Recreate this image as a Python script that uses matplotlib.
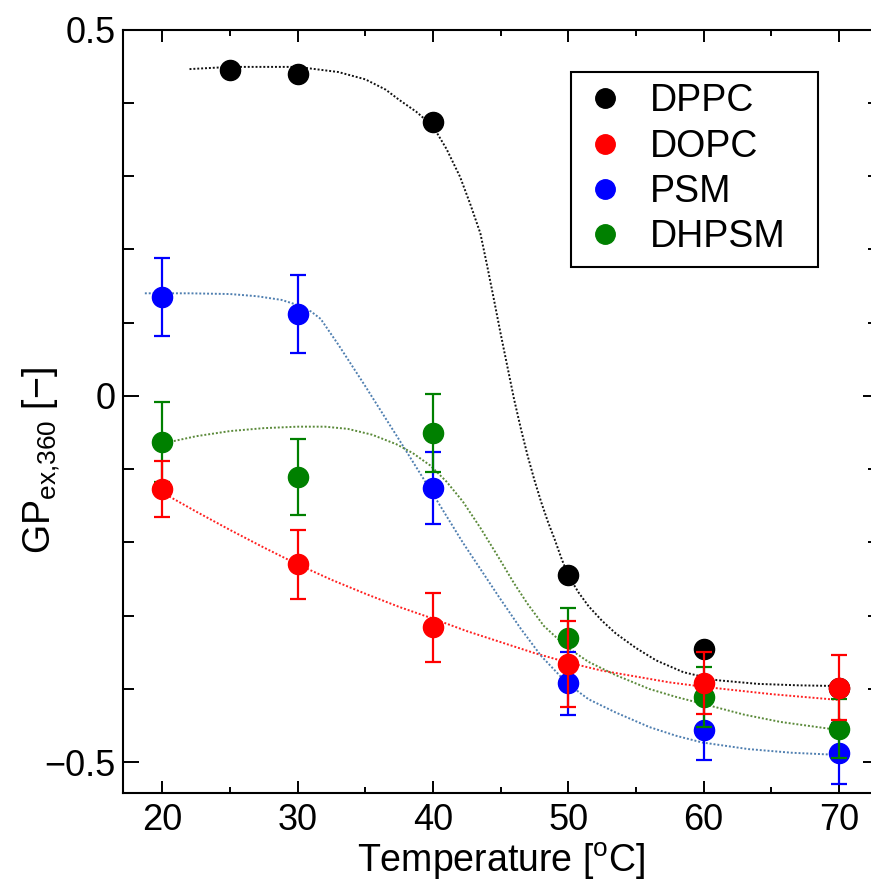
import numpy as np
import matplotlib
matplotlib.use("Agg")
import matplotlib.pyplot as plt
from matplotlib.lines import Line2D

plt.rcParams["font.family"] = ["Liberation Sans", "DejaVu Sans"]
plt.rcParams["mathtext.fontset"] = "custom"
plt.rcParams["mathtext.rm"] = "Liberation Sans"
plt.rcParams["mathtext.it"] = "Liberation Sans:italic"

# ---- 측정값 (온도별 GP) ----
temp = [20, 30, 40, 50, 60, 70]
temp_dppc = [25, 30, 40, 50, 60, 70]
gp_dppc = [0.445, 0.439, 0.374, -0.245, -0.346, -0.398]
err_dppc = [0.004, 0.004, 0.004, 0.004, 0.004, 0.004]
gp_dopc = [-0.127, -0.230, -0.316, -0.366, -0.392, -0.398]
err_dopc = [0.038, 0.047, 0.047, 0.059, 0.042, 0.045]
gp_psm = [0.135, 0.112, -0.126, -0.392, -0.456, -0.488]
err_psm = [0.053, 0.053, 0.049, 0.043, 0.041, 0.042]
gp_dhpsm = [-0.063, -0.111, -0.051, -0.331, -0.411, -0.454]
err_dhpsm = [0.055, 0.052, 0.053, 0.042, 0.041, 0.040]

# ---- 피팅 곡선 (그림에서 읽은 점) ----
fit_x_dppc = [22, 25, 30, 33, 35, 36.5, 37.5, 38.75, 40, 41, 42, 42.75, 43.5, 44,
              44.5, 45, 45.5, 46, 46.5, 47, 47.5, 48, 48.5, 49, 49.5, 50, 50.75,
              51.5, 52.5, 53.5, 55, 56.5, 58.5, 61, 64, 67, 70]
fit_y_dppc = [0.446, 0.449, 0.449, 0.442, 0.432, 0.418, 0.404, 0.388, 0.368, 0.337,
              0.299, 0.262, 0.222, 0.178, 0.132, 0.085, 0.040, -0.005, -0.045,
              -0.082, -0.115, -0.145, -0.172, -0.196, -0.222, -0.245, -0.268,
              -0.287, -0.307, -0.324, -0.344, -0.361, -0.377, -0.388, -0.393,
              -0.395, -0.396]
fit_x_dopc = [20, 22.5, 25, 27.5, 30, 32.5, 35, 37.5, 40, 42.5, 45, 47.5, 50, 52.5,
              55, 57.5, 60, 62.5, 65, 67.5, 70]
fit_y_dopc = [-0.132, -0.158, -0.183, -0.207, -0.230, -0.251, -0.270, -0.288, -0.304,
              -0.321, -0.336, -0.351, -0.364, -0.375, -0.383, -0.391, -0.397, -0.402,
              -0.407, -0.411, -0.415]
fit_x_psm = [18.7, 22, 25, 27, 28.8, 30, 31, 31.7, 33, 34.9, 37.4, 39.8, 42.2, 44.9,
             46.5, 48, 49.9, 51.5, 53.5, 56, 58, 59.9, 63.3, 66.5, 70]
fit_y_psm = [0.140, 0.140, 0.139, 0.136, 0.131, 0.124, 0.115, 0.105, 0.070, 0.016,
             -0.057, -0.128, -0.200, -0.275, -0.318, -0.355, -0.392, -0.414, -0.432,
             -0.452, -0.464, -0.473, -0.482, -0.487, -0.490]
fit_x_dhpsm = [20, 22.5, 25, 27.5, 30, 32, 33.7, 35.5, 37.3, 38.5, 39.8, 41, 42.2,
               43.5, 44.9, 46, 47, 48.2, 49.9, 51.5, 53.5, 56, 58, 59.9, 63, 65.7, 70]
fit_y_dhpsm = [-0.065, -0.055, -0.048, -0.044, -0.042, -0.042, -0.045, -0.053, -0.066,
               -0.078, -0.095, -0.117, -0.144, -0.180, -0.222, -0.256, -0.284, -0.314,
               -0.343, -0.363, -0.381, -0.400, -0.411, -0.420, -0.435, -0.445, -0.456]

fig = plt.figure(figsize=(8.71, 8.84), dpi=100)
ax = fig.add_axes([0.141, 0.1029, 0.868, 0.8637])

dot = (0, (1, 1))
ax.plot(fit_x_dppc, fit_y_dppc, ls=dot, lw=1.4, color="#111111", zorder=1.5)
ax.plot(fit_x_dopc, fit_y_dopc, ls=dot, lw=1.4, color="#ff2020", zorder=1.5)
ax.plot(fit_x_psm, fit_y_psm, ls=dot, lw=1.4, color="#4f7fb0", zorder=1.5)
ax.plot(fit_x_dhpsm, fit_y_dhpsm, ls=dot, lw=1.4, color="#5b8a3a", zorder=1.5)

series = [
    (temp_dppc, gp_dppc, err_dppc, "black", "DPPC", 3),
    (temp, gp_dopc, err_dopc, "red", "DOPC", 6),
    (temp, gp_psm, err_psm, "blue", "PSM", 4),
    (temp, gp_dhpsm, err_dhpsm, "green", "DHPSM", 5),
]
handles = []
for x, y, e, c, lab, z in series:
    ax.errorbar(x, y, yerr=e, fmt="o", color=c, ms=14.5, mec=c, elinewidth=1.6,
                capsize=6, capthick=1.6, zorder=z)
    handles.append(Line2D([], [], ls="", marker="o", ms=14, color=c, label=lab))

ax.set_xlim(17.07, 72.96)
ax.set_ylim(-0.542, 0.5)
ax.set_xticks(temp)
ax.set_xticks([25, 35, 45, 55, 65], minor=True)
ax.set_yticks([-0.5, 0, 0.5])
ax.set_yticklabels(["\u22120.5", "0", "0.5"])
ax.set_yticks([-0.4, -0.3, -0.2, -0.1, 0.1, 0.2, 0.3, 0.4], minor=True)
for s in ax.spines.values():
    s.set_linewidth(1.5)
ax.tick_params(which="both", direction="in", top=True, right=True, width=1.4)
ax.tick_params(axis="x", which="major", length=8.6, labelsize=26, pad=7)
ax.tick_params(axis="x", which="minor", length=4.3)
ax.tick_params(axis="y", which="major", length=11.3, labelsize=26, pad=5)
ax.tick_params(axis="y", which="minor", length=7.7)

ax.set_xlabel("Temperature [$^{\\mathrm{o}}$C]", fontsize=27, labelpad=2)
ax.set_ylabel("GP$_{\\mathrm{ex{,}360}}$ [\u2212]", fontsize=27)
ax.yaxis.set_label_coords(-0.080, 0.436)

leg = ax.legend(handles=handles, loc="upper left",
                bbox_to_anchor=(571 / 871, 1 - 72 / 884 - 0.01, 247 / 871, 0.01),
                bbox_transform=fig.transFigure, mode="expand", fontsize=27,
                frameon=True, fancybox=False, edgecolor="black", framealpha=1,
                borderaxespad=0, borderpad=0.3, labelspacing=0.25,
                handlelength=1.2, handletextpad=0.6)
leg.get_frame().set_linewidth(1.5)

fig.savefig("out.png", dpi=100)
